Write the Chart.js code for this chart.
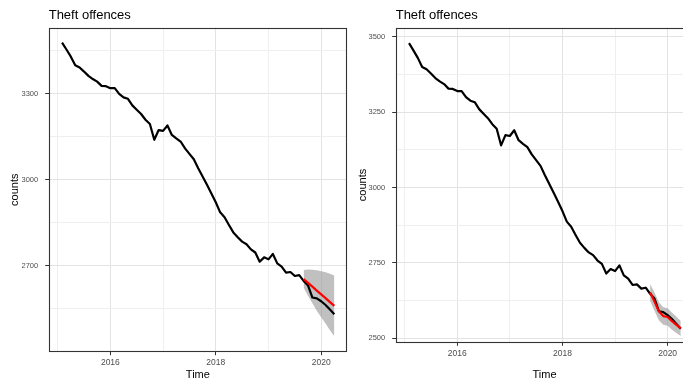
<!DOCTYPE html>
<html>
<head>
<meta charset="utf-8">
<script src="https://cdn.jsdelivr.net/npm/chart.js@4/dist/chart.umd.min.js"></script>
<style>
  html, body { margin: 0; padding: 0; background: #fff; }
  body { width: 683px; height: 383px; overflow: hidden; position: relative; }
  canvas { position: absolute; top: 0; }
  #left { left: 0; }
  #right { left: 350px; }
</style>
</head>
<body>
<canvas id="left" width="350" height="383"></canvas>
<canvas id="right" width="350" height="383"></canvas>
<script>
// Monthly theft offence counts, Feb 2015 - Apr 2020
const startYear = 2015;
const startMonth = 2;
const counts = [
  3479, 3455, 3430, 3400, 3392, 3378, 3363, 3352, 3343, 3328, 3327, 3320,
  3320, 3300, 3288, 3283, 3260, 3245, 3230, 3210, 3195, 3140, 3174, 3171,
  3190, 3157, 3145, 3134, 3110, 3091, 3072, 3041, 3012, 2983, 2953, 2922,
  2887, 2870, 2843, 2817, 2800, 2785, 2776, 2758, 2747, 2715, 2730, 2723,
  2742, 2709, 2698, 2677, 2679, 2665, 2668, 2648, 2632, 2590, 2587, 2577,
  2564, 2548, 2532
];

// Forecast horizon starts at Sep 2019 (index into counts)
const forecastStart = 55;

// Model A forecast with prediction interval
const fcA = [2654, 2641, 2628, 2614, 2601, 2588, 2574, 2561];
const fcAUpper = [2686, 2688, 2687, 2685, 2682, 2678, 2673, 2667];
const fcALower = [2625, 2596, 2570, 2544, 2521, 2499, 2476, 2455];

// Model B forecast with prediction interval
const fcB = [2652, 2622, 2590, 2574, 2571, 2557, 2545, 2533];
const fcBUpper = [2680, 2652, 2620, 2603, 2600, 2585, 2572, 2558];
const fcBLower = [2624, 2592, 2560, 2545, 2542, 2529, 2518, 2508];

// Axis ticks
const yearTicks = [2016, 2018, 2020];
const yearMinor = [2015, 2017, 2019];
const leftYTicks = [3300, 3000, 2700];
const leftYMinor = [3450, 3150, 2850, 2550];
const rightYTicks = [3500, 3250, 3000, 2750, 2500];
const rightYMinor = [3375, 3125, 2875, 2625];

const chartTitle = 'Theft offences';
const xTitle = 'Time';
const yTitle = 'counts';

const timeOf = i => startYear + (startMonth - 1 + i) / 12;
const series = vals => vals.map((v, i) => ({ x: timeOf(i), y: v }));
const fcSeries = vals => vals.map((v, i) => ({ x: timeOf(forecastStart + i), y: v }));

const SANS = '"Liberation Sans", Arial, Helvetica, sans-serif';

// Panel frame and title, drawn relative to the chart area
const framePlugin = {
  id: 'frame',
  afterDraw(chart) {
    const { ctx, chartArea: a } = chart;
    ctx.save();
    ctx.strokeStyle = '#333333';
    ctx.lineWidth = 1.1;
    ctx.strokeRect(Math.round(a.left) + 0.5, Math.round(a.top) + 0.5,
                   Math.round(a.right - a.left) - 1, Math.round(a.bottom - a.top) - 1);
    ctx.fillStyle = '#000000';
    ctx.font = '13px ' + SANS;
    ctx.textAlign = 'left';
    ctx.textBaseline = 'alphabetic';
    ctx.fillText(chart.options.plugins.frame.text, a.left, 19);
    ctx.restore();
  }
};

function makeChart(canvasId, cfg) {
  const majorY = cfg.yTicks, minorY = cfg.yMinor;
  const isMinorX = v => yearMinor.includes(v);
  const isMinorY = v => minorY.includes(v);
  return new Chart(document.getElementById(canvasId), {
    type: 'line',
    data: {
      datasets: [
        {
          label: 'lower',
          data: fcSeries(cfg.lower),
          borderWidth: 0,
          pointRadius: 0,
          fill: false,
          order: 4
        },
        {
          label: 'upper',
          data: fcSeries(cfg.upper),
          borderWidth: 0,
          pointRadius: 0,
          backgroundColor: 'rgba(150,150,150,0.6)',
          fill: '-1',
          order: 3
        },
        {
          label: 'counts',
          data: series(counts),
          borderColor: '#000000',
          borderWidth: 2.2,
          pointRadius: 0,
          fill: false,
          order: 2
        },
        {
          label: 'forecast',
          data: fcSeries(cfg.forecast),
          borderColor: '#ff0000',
          borderWidth: 2.2,
          pointRadius: 0,
          fill: false,
          order: 1
        }
      ]
    },
    options: {
      responsive: false,
      animation: false,
      devicePixelRatio: 1,
      layout: { padding: { top: 27.7, right: cfg.padRight, left: 0, bottom: 0 } },
      elements: { line: { tension: 0, borderJoinStyle: 'round', borderCapStyle: 'butt' } },
      plugins: {
        legend: { display: false },
        tooltip: { enabled: false },
        filler: { propagate: false },
        frame: { text: chartTitle }
      },
      scales: {
        x: {
          type: 'linear',
          min: 2014.83,
          max: 2020.49,
          afterBuildTicks: axis => {
            axis.ticks = [...yearMinor, ...yearTicks].sort((a, b) => a - b).map(v => ({ value: v }));
          },
          afterFit: s => { s.height = cfg.xHeight; },
          border: { display: false },
          grid: {
            color: c => (c.tick && isMinorX(c.tick.value)) ? '#efefef' : '#e3e3e3',
            lineWidth: 1,
            drawTicks: true,
            tickLength: 3.5,
            tickColor: c => (c.tick && isMinorX(c.tick.value)) ? 'rgba(0,0,0,0)' : '#333333'
          },
          ticks: {
            autoSkip: false,
            maxRotation: 0,
            padding: 2.5,
            color: '#4d4d4d',
            font: { family: SANS, size: 8.5 },
            callback: v => yearTicks.includes(v) ? String(v) : ''
          },
          title: {
            display: true,
            text: xTitle,
            color: '#000000',
            font: { family: SANS, size: 11 },
            padding: { top: 0, bottom: 1.4 }
          }
        },
        y: {
          type: 'linear',
          min: cfg.yMin,
          max: cfg.yMax,
          afterBuildTicks: axis => {
            axis.ticks = [...minorY, ...majorY].sort((a, b) => a - b).map(v => ({ value: v }));
          },
          afterFit: s => { s.width = cfg.yWidth; },
          border: { display: false },
          grid: {
            color: c => (c.tick && isMinorY(c.tick.value)) ? '#efefef' : '#e3e3e3',
            lineWidth: 1,
            drawTicks: true,
            tickLength: 3.5,
            tickColor: c => (c.tick && isMinorY(c.tick.value)) ? 'rgba(0,0,0,0)' : '#333333'
          },
          ticks: {
            autoSkip: false,
            padding: 7,
            color: '#4d4d4d',
            font: { family: SANS, size: 7.5 },
            callback: v => majorY.includes(v) ? String(v) : ''
          },
          title: {
            display: true,
            text: yTitle,
            color: '#000000',
            font: { family: SANS, size: 11 },
            padding: { top: cfg.yTitlePad, bottom: 0 }
          }
        }
      }
    },
    plugins: [framePlugin]
  });
}

makeChart('left', {
  forecast: fcA, upper: fcAUpper, lower: fcALower,
  yTicks: leftYTicks, yMinor: leftYMinor,
  yMin: 2401, yMax: 3531,
  yWidth: 48.7, padRight: 3, xHeight: 31.3, yTitlePad: 8.8
});

makeChart('right', {
  forecast: fcB, upper: fcBUpper, lower: fcBLower,
  yTicks: rightYTicks, yMinor: rightYMinor,
  yMin: 2487, yMax: 3530,
  yWidth: 45.7, padRight: 6.6, xHeight: 40.7, yTitlePad: 5.9
});
</script>
</body>
</html>
